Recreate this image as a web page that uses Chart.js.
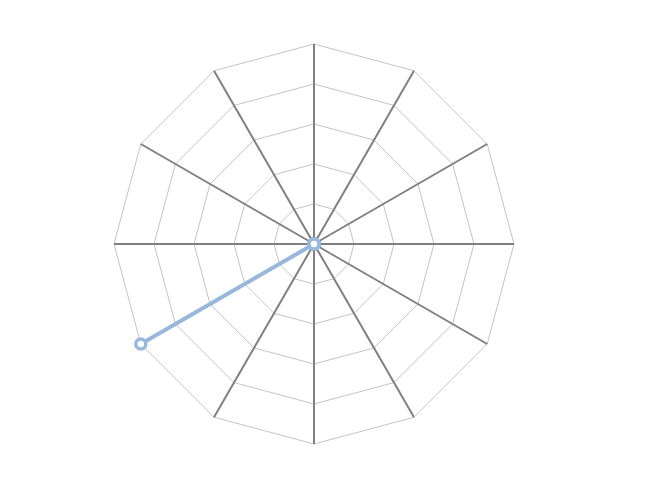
<!DOCTYPE html>
<html>
<head>
<meta charset="utf-8">
<script src="https://cdn.jsdelivr.net/npm/chart.js@4/dist/chart.umd.min.js"></script>
<style>
  body { margin: 0; background: #fff; }
</style>
</head>
<body>
<canvas id="radar" width="660" height="498"></canvas>
<script>
// Spoke labels (hidden in the picture) and series values
const labels = ['1', '2', '3', '4', '5', '6', '7', '8', '9', '10', '11', '12'];
const values = [0, 0, 0, 0, 0, 0, 0, 0, 5, 0, 0, 0];
const scaleMax = 5;

const ctx = document.getElementById('radar');

new Chart(ctx, {
  type: 'radar',
  data: {
    labels: labels,
    datasets: [{
      data: values,
      borderColor: '#98b8db',
      backgroundColor: '#ffffff',
      borderWidth: 4,
      fill: false,
      pointRadius: 5,
      pointBorderWidth: 3.5,
      pointBackgroundColor: '#ffffff',
      pointBorderColor: '#98b8db'
    }]
  },
  options: {
    responsive: false,
    animation: false,
    layout: {
      padding: { left: 114, right: 146, top: 44, bottom: 54 }
    },
    plugins: {
      legend: { display: false },
      tooltip: { enabled: false }
    },
    scales: {
      r: {
        min: 0,
        max: scaleMax,
        ticks: { display: false, stepSize: 1 },
        pointLabels: { display: false },
        grid: { color: '#c4c4c4', lineWidth: 1 },
        angleLines: { color: '#808080', lineWidth: 2 }
      }
    }
  }
});
</script>
</body>
</html>
